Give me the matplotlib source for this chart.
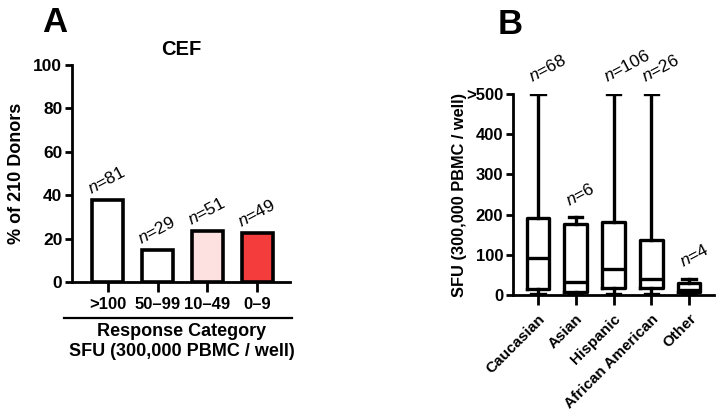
import matplotlib
matplotlib.use("Agg")
import matplotlib.pyplot as plt

plt.rcParams['font.family'] = ['Liberation Sans', 'DejaVu Sans']
plt.rcParams['mathtext.fontset'] = 'custom'
plt.rcParams['mathtext.it'] = 'Liberation Sans:italic'
plt.rcParams['mathtext.rm'] = 'Liberation Sans'

# ---- Panel A data ----
cat_a = [">100", "50\u201399", "10\u201349", "0\u20139"]
pct_a = [37.7, 14.6, 23.6, 22.6]
n_a = [81, 29, 51, 49]
col_a = ["#ffffff", "#ffffff", "#fde0e0", "#f43c3c"]

# ---- Panel B data ----
cat_b = ["Caucasian", "Asian", "Hispanic", "African American", "Other"]
n_b = [68, 6, 106, 26, 4]
whislo_b = [3, 1, 2, 2, 6]
q1_b = [14, 8, 17, 17, 8]
med_b = [91, 32, 64, 39, 13]
q3_b = [191, 176, 182, 137, 31]
whishi_b = [500, 193, 500, 500, 40]
yticks_b = [0, 100, 200, 300, 400, 500]
yticklabels_b = ["0", "100", "200", "300", "400", ">500"]

W, H = 728, 416
fig = plt.figure(figsize=(7.28, 4.16), dpi=100)

LW = 2.0

# ---------------- Panel A ----------------
axA = fig.add_axes([72/W, 1-282/H, (290-72)/W, (282-65)/H])
x = list(range(len(cat_a)))
axA.bar(x, pct_a, width=0.62, color=col_a, edgecolor='black', linewidth=2.6, zorder=3)
axA.set_xlim(-0.72, 3.66)
axA.set_ylim(0, 100)
axA.set_yticks([0, 20, 40, 60, 80, 100])
axA.set_xticks(x)
axA.set_xticklabels(cat_a, fontweight='bold', fontsize=12)
for lab in axA.get_yticklabels():
    lab.set_fontweight('bold'); lab.set_fontsize(12.5)
for s in ['top', 'right']:
    axA.spines[s].set_visible(False)
for s in ['left', 'bottom']:
    axA.spines[s].set_linewidth(LW)
axA.tick_params(axis='y', width=LW, length=5, pad=2)
axA.tick_params(axis='x', width=LW, length=7, pad=4)
axA.set_ylabel("% of 210 Donors", fontweight='bold', fontsize=13)
axA.yaxis.set_label_coords(-0.216, 0.5)
axA.set_title("CEF", fontweight='bold', fontsize=14.5, pad=7)
for xi, v, n in zip(x, pct_a, n_a):
    axA.text(xi - 0.3, v + 1.5, r"$\mathit{n}$=" + str(n), rotation=28,
             rotation_mode='anchor', ha='left', va='bottom', fontsize=12.5)

# separator line and category label
fig.add_artist(plt.Line2D([64/W, 292/W], [1-318/H, 1-318/H], color='black', lw=1.6))
fig.text(182/W, 1-332/H, "Response Category", ha='center', va='center',
         fontweight='bold', fontsize=13)
fig.text(182/W, 1-351/H, "SFU (300,000 PBMC / well)", ha='center', va='center',
         fontweight='bold', fontsize=13)
fig.text(55/W, 1-23/H, "A", ha='center', va='center', fontweight='bold', fontsize=25)

# ---------------- Panel B ----------------
axB = fig.add_axes([513/W, 1-295/H, (714-513)/W, (295-94)/H])
stats = []
for i in range(len(cat_b)):
    stats.append(dict(label=cat_b[i], med=med_b[i], q1=q1_b[i], q3=q3_b[i],
                      whislo=whislo_b[i], whishi=whishi_b[i], fliers=[]))
pos = list(range(1, len(cat_b) + 1))
axB.bxp(stats, positions=pos, widths=0.6, capwidths=0.35, showfliers=False,
        boxprops=dict(linewidth=2.4, color='black'),
        whiskerprops=dict(linewidth=2.4, color='black'),
        capprops=dict(linewidth=2.4, color='black'),
        medianprops=dict(linewidth=2.4, color='black'))
axB.set_xlim(0.34, 5.66)
axB.set_ylim(0, 500)
axB.set_yticks(yticks_b)
axB.set_yticklabels(yticklabels_b, fontweight='bold', fontsize=12)
axB.set_xticks(pos)
axB.set_xticklabels(cat_b, rotation=45, ha='right', rotation_mode='anchor',
                    fontweight='bold', fontsize=11)
for s in ['top', 'right']:
    axB.spines[s].set_visible(False)
for s in ['left', 'bottom']:
    axB.spines[s].set_linewidth(LW)
    axB.spines[s].set_clip_on(False)
axB.tick_params(axis='y', width=LW, length=5, pad=2)
axB.tick_params(axis='x', width=LW, length=7, pad=5)
axB.set_ylabel("SFU (300,000 PBMC / well)", fontweight='bold', fontsize=11.8)
axB.yaxis.set_label_coords(-0.229, 0.5)
for p, top, n in zip(pos, whishi_b, n_b):
    axB.text(p - 0.13, top + 22, r"$\mathit{n}$=" + str(n), rotation=28,
             rotation_mode='anchor', ha='left', va='bottom', fontsize=12.5, clip_on=False)
fig.text(510/W, 1-25/H, "B", ha='center', va='center', fontweight='bold', fontsize=25)

fig.savefig("out.png", dpi=100)
